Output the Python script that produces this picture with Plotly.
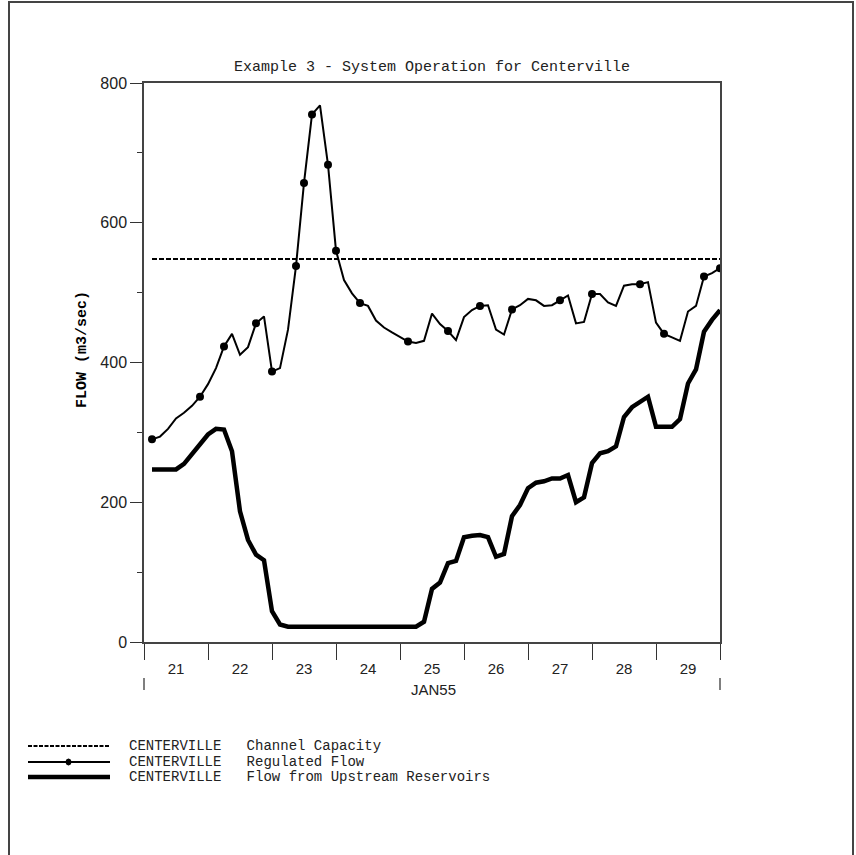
import pandas as pd
import plotly.graph_objects as go

# ---------------- data ----------------
times = pd.date_range("1955-01-21 03:00", periods=72, freq="3h")

regulated_flow = [290, 294, 305, 320, 328, 338, 351, 369, 392, 423, 441, 411,
                  422, 456, 466, 387, 392, 447, 538, 657, 755, 768, 683, 560,
                  518, 499, 485, 481, 460, 450, 443, 436, 430, 428, 431, 470,
                  455, 445, 432, 465, 475, 481, 482, 447, 440, 476, 482, 491,
                  489, 481, 482, 489, 496, 456, 458, 498, 498, 486, 481, 510,
                  512, 512, 515, 457, 441, 436, 431, 473, 481, 523, 528, 535]

upstream_flow = [247, 247, 247, 247, 255, 269, 281, 297, 305, 304, 273, 187,
                 146, 125, 117, 44, 25, 22, 22, 22, 22, 22, 22, 22,
                 22, 22, 22, 22, 22, 22, 22, 22, 22, 22, 29, 76,
                 85, 113, 116, 150, 152, 153, 150, 122, 126, 180, 196, 220,
                 228, 230, 234, 234, 239, 200, 207, 256, 270, 273, 280, 322,
                 336, 344, 351, 308, 308, 308, 319, 370, 390, 444, 461, 475]

capacity_times = ["1955-01-21 03:00", "1955-01-30 00:00"]
capacity_values = [548, 548]

# indices of points carrying a symbol on the regulated-flow curve
marker_idx = [0, 6, 9, 13, 15, 18, 19, 20, 22, 23, 26, 32, 37, 41, 45,
              51, 55, 61, 64, 69, 71]

y_ticks = [0, 200, 400, 600, 800]
title_text = "Example 3 - System Operation for Centerville"
legend_labels = ["CENTERVILLE   Channel Capacity",
                 "CENTERVILLE   Regulated Flow",
                 "CENTERVILLE   Flow from Upstream Reservoirs"]

# ---------------- geometry helpers ----------------
W, H = 856, 855
L, R, T, B = 144, 720, 83, 642   # plot area in pixels
PW, PH = R - L, B - T


def px(xpix):
    return (xpix - L) / PW


def py(ypix):
    return (B - ypix) / PH


MONO = "Liberation Mono, Courier New, monospace"
SANS = "Liberation Sans, Arial, sans-serif"

fig = go.Figure()

fig.add_trace(go.Scatter(x=capacity_times, y=capacity_values, mode="lines",
                         line=dict(color="black", width=2, dash="5px,2px"),
                         showlegend=False, hoverinfo="skip"))
fig.add_trace(go.Scatter(x=times, y=upstream_flow, mode="lines",
                         line=dict(color="black", width=4.5),
                         showlegend=False))
fig.add_trace(go.Scatter(x=times, y=regulated_flow, mode="lines",
                         line=dict(color="black", width=2),
                         showlegend=False))
fig.add_trace(go.Scatter(x=[times[i] for i in marker_idx],
                         y=[regulated_flow[i] for i in marker_idx],
                         mode="markers",
                         marker=dict(color="black", size=8, symbol="circle"),
                         showlegend=False))

fig.update_layout(
    width=W, height=H,
    margin=dict(l=L, r=W - R, t=T, b=H - B),
    paper_bgcolor="white", plot_bgcolor="white",
    showlegend=False,
)

fig.update_xaxes(
    type="date",
    range=["1955-01-21 00:00", "1955-01-30 00:00"],
    tick0="1955-01-21", dtick=86400000,
    ticklabelmode="period", tickformat="%d",
    ticks="outside", ticklen=16, tickcolor="#333", tickwidth=1,
    ticklabelstandoff=-4,
    showline=True, linecolor="#444", linewidth=1.5, mirror=True,
    showgrid=False, zeroline=False,
    tickfont=dict(family=SANS, size=15, color="#222"),
)
fig.update_yaxes(
    range=[0, 800], tickvals=y_ticks,
    ticks="outside", ticklen=12, tickcolor="#333", tickwidth=1,
    minor=dict(dtick=100, ticks="outside", ticklen=5, tickcolor="#333"),
    showline=True, linecolor="#444", linewidth=1.5, mirror=True,
    showgrid=False, zeroline=False,
    tickfont=dict(family=SANS, size=16, color="#222"),
)

annotations = [
    dict(text=title_text, x=0.5, y=py(67), xref="paper", yref="paper",
         showarrow=False, font=dict(family=MONO, size=15, color="#222"),
         xanchor="center", yanchor="middle"),
    dict(text="<b>FLOW (m3/sec)</b>", x=px(82), y=py(350), xref="paper",
         yref="paper", showarrow=False, textangle=-90,
         font=dict(family=MONO, size=15, color="black"),
         xanchor="center", yanchor="middle"),
    dict(text="JAN55", x=px(433), y=py(689), xref="paper", yref="paper",
         showarrow=False, font=dict(family=SANS, size=15, color="#222"),
         xanchor="center", yanchor="middle"),
]

legend_rows = [746, 762, 777]
for lbl, yy in zip(legend_labels, legend_rows):
    annotations.append(dict(text=lbl, x=px(127), y=py(yy), xref="paper",
                            yref="paper", showarrow=False,
                            font=dict(family=MONO, size=14, color="#222"),
                            xanchor="left", yanchor="middle"))

shapes = [
    # page frame
    dict(type="rect", xref="paper", yref="paper", x0=px(9), x1=px(853),
         y0=py(2), y1=py(870), line=dict(color="#444", width=2)),
    # month boundary marks
    dict(type="line", xref="paper", yref="paper", x0=px(L), x1=px(L),
         y0=py(678), y1=py(690), line=dict(color="#555", width=1.5)),
    dict(type="line", xref="paper", yref="paper", x0=px(R), x1=px(R),
         y0=py(678), y1=py(690), line=dict(color="#555", width=1.5)),
    # legend symbols
    dict(type="line", xref="paper", yref="paper", x0=px(28), x1=px(110),
         y0=py(legend_rows[0]), y1=py(legend_rows[0]),
         line=dict(color="black", width=2, dash="4px,1.5px")),
    dict(type="line", xref="paper", yref="paper", x0=px(28), x1=px(110),
         y0=py(legend_rows[1]), y1=py(legend_rows[1]),
         line=dict(color="black", width=2)),
    dict(type="circle", xref="paper", yref="paper", x0=px(66), x1=px(71),
         y0=py(legend_rows[1] - 3), y1=py(legend_rows[1] + 3),
         fillcolor="black", line=dict(color="black", width=1)),
    dict(type="line", xref="paper", yref="paper", x0=px(28), x1=px(110),
         y0=py(legend_rows[2]), y1=py(legend_rows[2]),
         line=dict(color="black", width=4.5)),
]

fig.update_layout(annotations=annotations, shapes=shapes)
fig.write_html(
    "out.html",
    config={"displayModeBar": False},
    post_script="document.body.style.margin='0';"
                "document.body.style.overflow='hidden';",
)
